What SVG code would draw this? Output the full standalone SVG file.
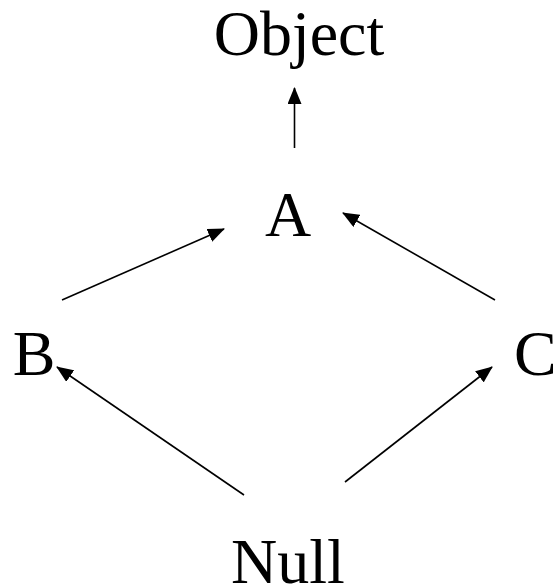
<svg xmlns="http://www.w3.org/2000/svg" width="553" height="588" viewBox="0 0 553 588">
<style>
text{font-family:"Liberation Serif","Times New Roman",serif;font-size:64px;fill:#000}
.e{stroke:#000;stroke-width:1.6;fill:none;marker-end:url(#ah)}
</style>
<defs>
<marker id="ah" markerUnits="userSpaceOnUse" markerWidth="18" markerHeight="14" refX="16" refY="7" orient="auto">
<path d="M0,0 L17,7 L0,14 Z" fill="#000"/>
</marker>
</defs>
<rect width="553" height="588" fill="#fff"/>
<g id="object"><text x="299" y="55" text-anchor="middle">Object</text></g>
<g id="a"><text x="288" y="236" text-anchor="middle">A</text></g>
<g id="b"><text x="34" y="375" text-anchor="middle">B</text></g>
<g id="c"><text x="514" y="375">C</text></g>
<g id="null"><text x="288" y="583" text-anchor="middle">Null</text></g>
<g id="connectors">
<line class="e" x1="294.5" y1="148" x2="294.5" y2="88"/>
<line class="e" x1="62" y1="300" x2="224" y2="229"/>
<line class="e" x1="495" y1="300" x2="343" y2="213"/>
<line class="e" x1="244" y1="495" x2="57" y2="367"/>
<line class="e" x1="345" y1="482" x2="492" y2="367"/>
</g>
</svg>
